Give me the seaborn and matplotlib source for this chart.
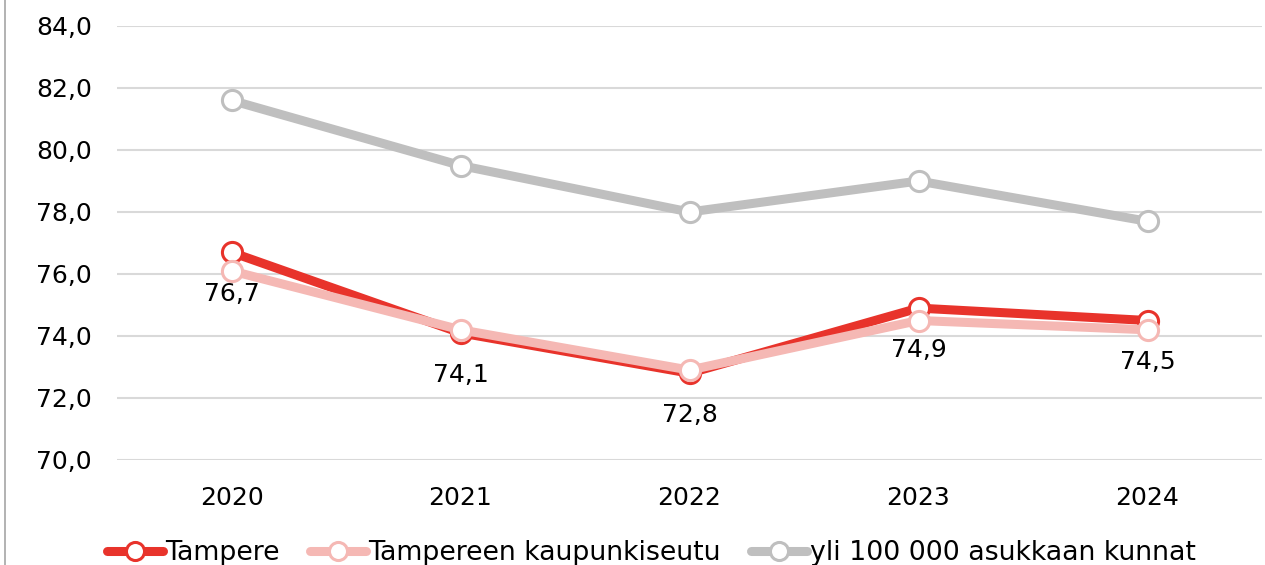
import matplotlib
matplotlib.use("Agg")
import matplotlib.pyplot as plt
import seaborn as sns
import pandas as pd
from matplotlib.lines import Line2D

years = ["2020", "2021", "2022", "2023", "2024"]
tampere = [76.7, 74.1, 72.8, 74.9, 74.5]
seutu = [76.1, 74.2, 72.9, 74.5, 74.2]
yli100 = [81.6, 79.5, 78.0, 79.0, 77.7]
series_names = ["Tampere", "Tampereen kaupunkiseutu", "yli 100 000 asukkaan kunnat"]
colors = ["#E8332B", "#F5B8B4", "#BFBFBF"]

sns.set_theme(style="white")
plt.rcParams['font.family'] = ['DejaVu Sans']
plt.rcParams['text.color'] = 'black'

df = pd.DataFrame({
    "x": list(range(len(years))) * 3,
    "value": tampere + seutu + yli100,
    "series": sum([[n] * len(years) for n in series_names], []),
})

fig = plt.figure(figsize=(12.65, 5.65), dpi=100)
ax = fig.add_axes([117 / 1265, 1 - 460 / 565, (1262 - 117) / 1265, (460 - 26) / 565])

for name, col, z in zip(series_names, colors, [3, 4, 2]):
    sub = df[df["series"] == name]
    sns.lineplot(data=sub, x="x", y="value", ax=ax, color=col, linewidth=6.5,
                 marker="o", markersize=14.5, markerfacecolor="white",
                 markeredgecolor=col, markeredgewidth=2.2, zorder=z,
                 label=name, legend=False)

for i, v in enumerate(tampere):
    ax.annotate(f"{v:.1f}".replace(".", ","), (i, v), xytext=(0, -42),
                textcoords="offset pixels", ha="center", va="center",
                fontsize=18, color="black")

ax.set_xlim(-0.5, len(years) - 0.5)
ax.set_ylim(70, 84)
ax.set_xticks(range(len(years)))
ax.set_xticklabels(years)
yt = [70, 72, 74, 76, 78, 80, 82, 84]
ax.set_yticks(yt)
ax.set_yticklabels([f"{t:.1f}".replace(".", ",") for t in yt])
ax.tick_params(axis="both", length=0, labelsize=18, colors="black")
ax.tick_params(axis="y", pad=18)
ax.tick_params(axis="x", pad=19)
ax.set_xlabel("")
ax.set_ylabel("")
ax.grid(axis="y", color="#D9D9D9", linewidth=1.5)
ax.grid(axis="x", visible=False)
for s in ax.spines.values():
    s.set_visible(False)

handles = [Line2D([0], [0], color=c, linewidth=6.5, marker="o", markersize=13,
                  markerfacecolor="white", markeredgecolor=c, markeredgewidth=2.2)
           for c in colors]
leg = fig.legend(handles, series_names, loc="center", bbox_to_anchor=(651 / 1265, 1 - 553 / 565),
                 ncol=3, frameon=False, fontsize=19.3, handlelength=2.1, handletextpad=0.1,
                 columnspacing=1.1, borderaxespad=0)
for t in leg.get_texts():
    t.set_color("black")

fig.add_artist(Line2D([5 / 1265, 5 / 1265], [0, 1], color="#A6A6A6", linewidth=1.2,
                      transform=fig.transFigure))

fig.savefig("out.png", dpi=100, facecolor="white")
